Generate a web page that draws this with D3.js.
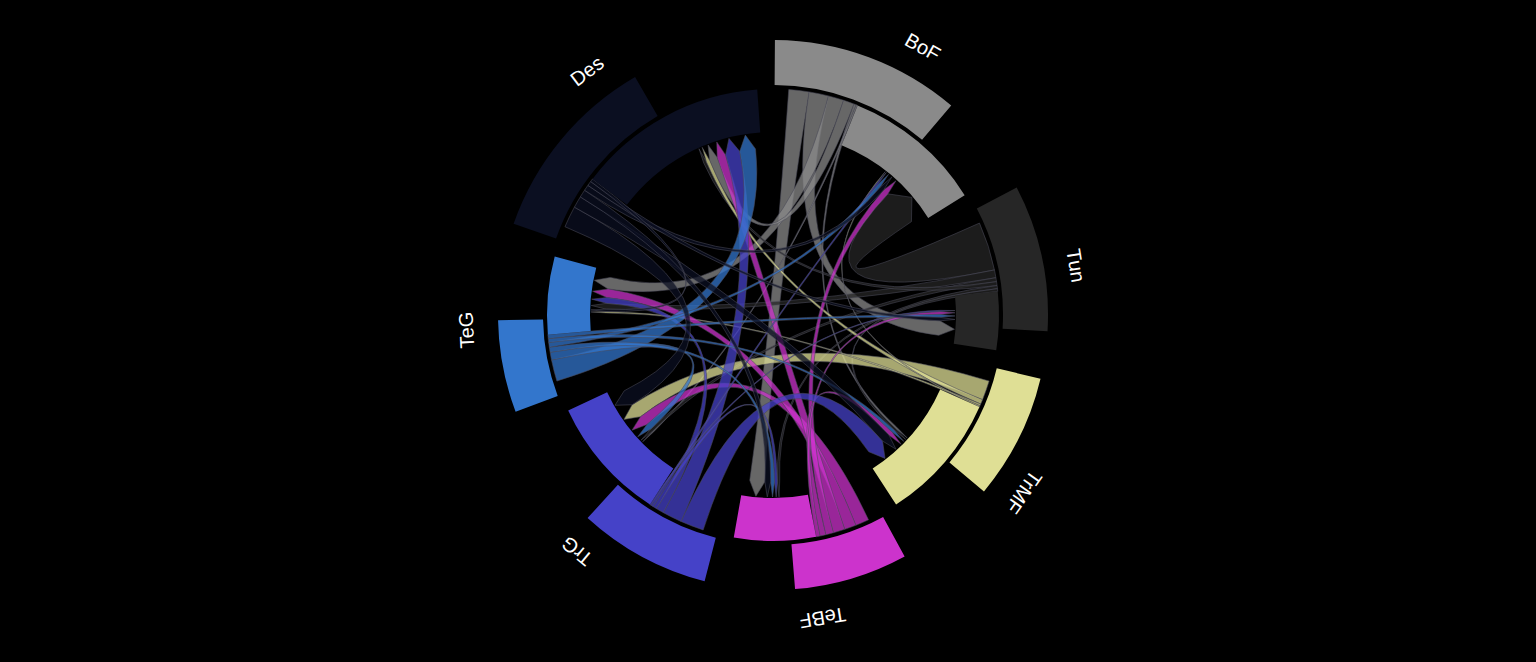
<!DOCTYPE html>
<html>
<head>
<meta charset="utf-8">
<script src="https://cdn.jsdelivr.net/npm/d3@7"></script>
<style>
html, body { margin: 0; padding: 0; background: #000; }
svg { display: block; }
</style>
</head>
<body>
<svg id="chart" width="1536" height="662"></svg>
<script>
// ---------- data ----------
const groupNames = ["BoF", "Tun", "TrMF", "TeBF", "TrG", "TeG", "Des"];
const groupColors = ["#8a8a8a", "#262626", "#dfdf95", "#cc33cc", "#4542c8", "#3376cc", "#0b0f21"];
// size of each group's outer-ring arc
const outerTotals = [40, 31, 26.5, 24, 28, 19.5, 40.5];
// size of each group's incoming (inner-ring) arc
const incomingTotals = [36, 15, 33, 21, 32, 20, 49];
// directed flows: [source, target, value]
const flowsBoF  = [["BoF","TeBF",5.2],["BoF","Tun",5.0],["BoF","TeG",4.0],["BoF","Des",2.8],["BoF","TrMF",0.6],["BoF","TrG",0.4]];
const flowsTun  = [["Tun","BoF",12.5],["Tun","TeG",2.0],["Tun","TrG",1.0],["Tun","Des",1.0],["Tun","TeBF",0.8],["Tun","TrMF",0.7]];
const flowsTrMF = [["TrMF","TrG",5.0],["TrMF","Des",1.2],["TrMF","TeG",0.5],["TrMF","BoF",0.3]];
const flowsTeBF = [["TeBF","TrG",3.5],["TeBF","TeG",3.0],["TeBF","Des",3.0],["TeBF","BoF",2.0],["TeBF","TrMF",1.5],["TeBF","Tun",1.0]];
const flowsTrG  = [["TrG","TrMF",6.0],["TrG","Des",5.0],["TrG","TeG",2.0],["TrG","TeBF",1.0],["TrG","BoF",0.6],["TrG","Tun",0.4]];
const flowsTeG  = [["TeG","Des",5.5],["TeG","TrG",2.0],["TeG","TeBF",1.3],["TeG","BoF",1.2],["TeG","TrMF",1.0],["TeG","Tun",1.0]];
const flowsDes  = [["Des","TrG",5.5],["Des","TrMF",3.0],["Des","TeBF",2.0],["Des","BoF",1.5],["Des","Tun",1.2],["Des","TeG",0.8]];
const flows = [].concat(flowsBoF, flowsTun, flowsTrMF, flowsTeBF, flowsTrG, flowsTeG, flowsDes);

// ---------- layout ----------
const W = 1536, H = 662;
const cx = 773, cy = 315;
const rInner0 = 183, rInner1 = 226, rOuter0 = 230, rOuter1 = 275;
const rSource = 226, rTarget = 182, headLen = 15, rLabel = 307;
const n = groupNames.length;
const pad = 8 * Math.PI / 180;

const outSums = groupNames.map(g => d3.sum(flows.filter(f => f[0] === g), f => f[2]));
const total = d3.sum(outSums) + d3.sum(incomingTotals);
const k = (2 * Math.PI - n * pad) / total;   // value -> radians

let x = pad / 2;
const groups = groupNames.map((g, i) => {
  const start = x;
  const outEnd = start + outSums[i] * k;
  const inEnd = outEnd + incomingTotals[i] * k;
  x = inEnd + pad;
  const outerStart = start - pad * 0.45;
  return { i, name: g, color: groupColors[i], start, outEnd, inEnd,
           outerStart, outerEnd: outerStart + outerTotals[i] * k };
});
const gByName = new Map(groups.map(g => [g.name, g]));

const chords = [];
groups.forEach(g => {
  const fs = flows.filter(f => f[0] === g.name).sort((a, b) => b[2] - a[2]);
  let a = g.start;
  fs.forEach(f => {
    const s0 = a; a += f[2] * k;
    chords.push({ flow: f, color: g.color, source: { startAngle: s0, endAngle: a } });
  });
});
groups.forEach(g => {
  const cs = chords.filter(c => c.flow[1] === g.name).sort((a, b) => a.flow[2] - b.flow[2]);
  const tot = d3.sum(cs, c => c.flow[2]) * k;
  let a = g.inEnd - pad * 0.25 - tot;
  cs.forEach(c => { const t0 = a; a += c.flow[2] * k; c.target = { startAngle: t0, endAngle: a }; });
});

// ---------- draw ----------
const svg = d3.select("#chart");
svg.append("rect").attr("width", W).attr("height", H).attr("fill", "#000");
const root = svg.append("g").attr("transform", `translate(${cx},${cy})`);

const ribbon = d3.ribbonArrow()
  .sourceRadius(rSource)
  .targetRadius(rTarget)
  .headRadius(headLen);

root.append("g").selectAll("path")
  .data(chords)
  .join("path")
  .attr("d", ribbon)
  .attr("fill", d => d.color)
  .attr("fill-opacity", 0.75)
  .attr("stroke", "#4a4a58")
  .attr("stroke-opacity", 0.7)
  .attr("stroke-width", 0.8);

const arcInner = d3.arc().innerRadius(rInner0).outerRadius(rInner1);
const arcOuter = d3.arc().innerRadius(rOuter0).outerRadius(rOuter1);

root.append("g").selectAll("path")
  .data(groups)
  .join("path")
  .attr("d", d => arcOuter({ startAngle: d.outerStart, endAngle: d.outerEnd }))
  .attr("fill", d => d.color);

root.append("g").selectAll("path")
  .data(groups)
  .join("path")
  .attr("d", d => arcInner({ startAngle: d.outEnd, endAngle: d.inEnd }))
  .attr("fill", d => d.color);

root.append("g").selectAll("text")
  .data(groups)
  .join("text")
  .attr("transform", d => {
    const a = ((d.outerStart + d.inEnd) / 2) * 180 / Math.PI;
    return `rotate(${a}) translate(0,${-rLabel})`;
  })
  .attr("text-anchor", "middle")
  .attr("dominant-baseline", "central")
  .attr("fill", "#fff")
  .attr("font-family", "'Liberation Sans', Arial, sans-serif")
  .attr("font-size", 20)
  .text(d => d.name);
</script>
</body>
</html>
